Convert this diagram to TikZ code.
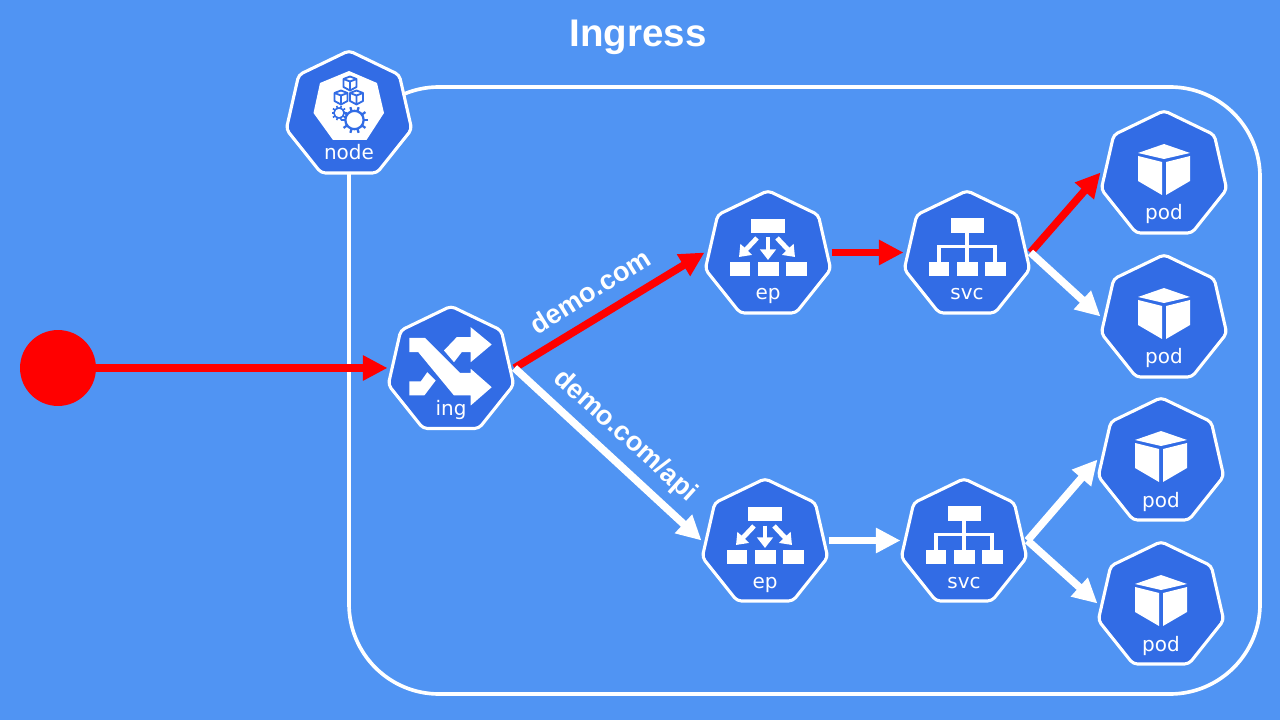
\documentclass[tikz,border=0pt]{standalone}
\usepackage{fontspec}
\setmainfont{DejaVu Sans}
\newfontfamily\titlefont{Liberation Sans}
\usetikzlibrary{arrows.meta,shapes.geometric}
\definecolor{bgblue}{RGB}{80,148,243}
\definecolor{kubeblue}{RGB}{50,108,229}
\tikzset{
  hept/.style={regular polygon, regular polygon sides=7, minimum size=91.5pt, inner sep=0pt, outer sep=0pt, draw=white, fill=kubeblue, line width=2.2pt, rounded corners=3pt},
  heptlabel/.style={text=white, font=\fontsize{14.2pt}{16pt}\selectfont, inner sep=0pt, anchor=base},
  titletext/.style={text=white, font=\titlefont\bfseries\fontsize{27.4pt}{30pt}\selectfont, inner sep=0pt},
  hosttext/.style={text=white, font=\titlefont\bfseries\fontsize{19.3pt}{22pt}\selectfont, inner sep=0pt},
  redarrow/.style={draw=red, line width=5.4pt, -{Triangle[length=17.5pt,width=17pt]}},
  whitearrow/.style={draw=white, line width=5.4pt, -{Triangle[length=17.5pt,width=17pt]}},
  iconline/.style={draw=white, line width=2.3pt},
  iconarrow/.style={draw=white, line width=3.4pt, -{Triangle[length=7.5pt,width=11pt]}},
}
% one heptagon with its label and the points where connectors meet it
\newcommand{\hept}[4]{
  \node[hept] (#1) at (#2,#3){};
  \node[heptlabel] (#1label) at (#2,#3+45) {#4};
  \coordinate (#1in) at (#2-63.5,#3-2.5);
  \coordinate (#1out) at (#2+63.5,#3-2.5);
}
\newcommand{\podicon}[1]{
  \begin{scope}[shift={(#1.center)}]
    \fill[white] (0,-31) -- (26,-22) -- (0,-16) -- (-26,-22) -- cycle;
    \fill[white] (-26,-19) -- (-2,-13) -- (-2,20) -- (-26,6) -- cycle;
    \fill[white] (26,-19) -- (2,-13) -- (2,20) -- (26,6) -- cycle;
  \end{scope}
}
\newcommand{\epicon}[1]{
  \begin{scope}[shift={(#1.center)}]
    \fill[white] (-17,-36) rectangle (17,-22);
    \fill[white] (-38.5,7) rectangle (-18,21);
    \fill[white] (-10.5,7) rectangle (10.5,21);
    \fill[white] (17.5,7) rectangle (38.5,21);
    \draw[iconarrow] (0,-17.5) -- (0,5);
    \draw[iconarrow] (-11,-17) -- (-29,2);
    \draw[iconarrow] (9,-17) -- (27,2);
  \end{scope}
}
\newcommand{\svcicon}[1]{
  \begin{scope}[shift={(#1.center)}]
    \draw[iconline] (0,-22) -- (0,7);
    \draw[iconline] (-28,7) -- (-28,-8.5) -- (28,-8.5) -- (28,7);
    \fill[white] (-16.5,-37) rectangle (16.5,-22);
    \fill[white] (-38.5,7) rectangle (-18,21);
    \fill[white] (-10.5,7) rectangle (10.5,21);
    \fill[white] (17.5,7) rectangle (38.5,21);
  \end{scope}
}
\newcommand{\minicube}[2]{
  \draw[kubeblue, line width=1.3pt, line join=round, shift={(#1,#2)}] (0,-7) -- (6.5,-4.5) -- (6.5,3.5) -- (0,7) -- (-6.5,3.5) -- (-6.5,-4.5) -- cycle (-6.5,-4.5) -- (0,-2) -- (6.5,-4.5) (0,-2) -- (0,7);
}
\newcommand{\gear}[4]{
  \begin{scope}[shift={(#1,#2)}]
    \foreach \a in {0,36,...,324}
      \draw[kubeblue, line width=#4] (\a:#3*0.7) -- (\a:#3);
    \draw[kubeblue, line width=#4] (0,0) circle (#3*0.68);
  \end{scope}
}
\begin{document}
\begin{tikzpicture}[x=0.025cm,y=-0.025cm]
\useasboundingbox (0,0) rectangle (1280,720);
\fill[bgblue] (0,0) rectangle (1280,720);
\node[titletext] (title) at (638,37) {Ingress};
\draw[white, line width=2.6pt, rounded corners=64pt] (349,87) rectangle (1260,694);
\hept{host}{349}{115}{node}
\hept{ing}{451}{370.5}{ing}
\hept{epa}{768}{255}{ep}
\hept{svca}{967}{255}{svc}
\hept{poda}{1164}{175}{pod}
\hept{podb}{1164}{319}{pod}
\hept{epb}{765}{543}{ep}
\hept{svcb}{964}{543}{svc}
\hept{podc}{1161}{462}{pod}
\hept{podd}{1161}{606}{pod}
\node[circle, fill=red, minimum size=54pt, inner sep=0pt] (client) at (58,368){};
% icons
\begin{scope}[shift={(host.center)}]
  \fill[white] (0,-44) -- (28,-32) -- (35,-2) -- (17.5,25) -- (-16,25) -- (-35.5,-2) -- (-29,-32) -- cycle;
\end{scope}
\minicube{350}{83.5}
\minicube{341}{97.5}
\minicube{356.5}{97.5}
\gear{339}{113}{7.5}{1.1pt}
\gear{354.5}{120}{13.5}{1.6pt}
\begin{scope}[shift={(ing.center)}]
  \fill[white] (-41.7,-32.7) -- (-26,-32.7) -- (9,2.3) -- (19.7,2.3) -- (19.7,-1.7) -- (40.7,16.7) -- (19.7,35) -- (19.7,25) -- (3,25) -- (-32.7,-18.3) -- (-41.7,-18.3) -- cycle;
  \fill[white] (19.7,-43.3) -- (40.7,-26) -- (19.7,-8.3) -- (19.7,-18.3) -- (10.7,-18.3) -- (3,-8.3) -- (-7,-20) -- (5.7,-33.3) -- (19.7,-33.3) -- cycle;
  \fill[white] (-41.7,11) -- (-30.3,11) -- (-23.7,1.7) -- (-15.3,10) -- (-26.7,25) -- (-41.7,25) -- cycle;
\end{scope}
\epicon{epa}
\epicon{epb}
\svcicon{svca}
\svcicon{svcb}
\podicon{poda}
\podicon{podb}
\podicon{podc}
\podicon{podd}
% connectors
\draw[redarrow] (client) -- (ingin);
\draw[redarrow] (ingout) -- (epain);
\draw[whitearrow] (ingout) -- (epbin);
\draw[redarrow] (epaout) -- (svcain);
\draw[redarrow] (svcaout) -- (podain);
\draw[whitearrow] (svcaout) -- (podbin);
\draw[whitearrow] (epbout) -- (svcbin);
\draw[whitearrow] (svcbout) -- (podcin);
\draw[whitearrow] (svcbout) -- (poddin);
\node[hosttext, rotate=32] (hosta) at (590,291) {demo.com};
\node[hosttext, rotate=-42] (hostb) at (625,436) {demo.com/api};
\end{tikzpicture}
\end{document}
